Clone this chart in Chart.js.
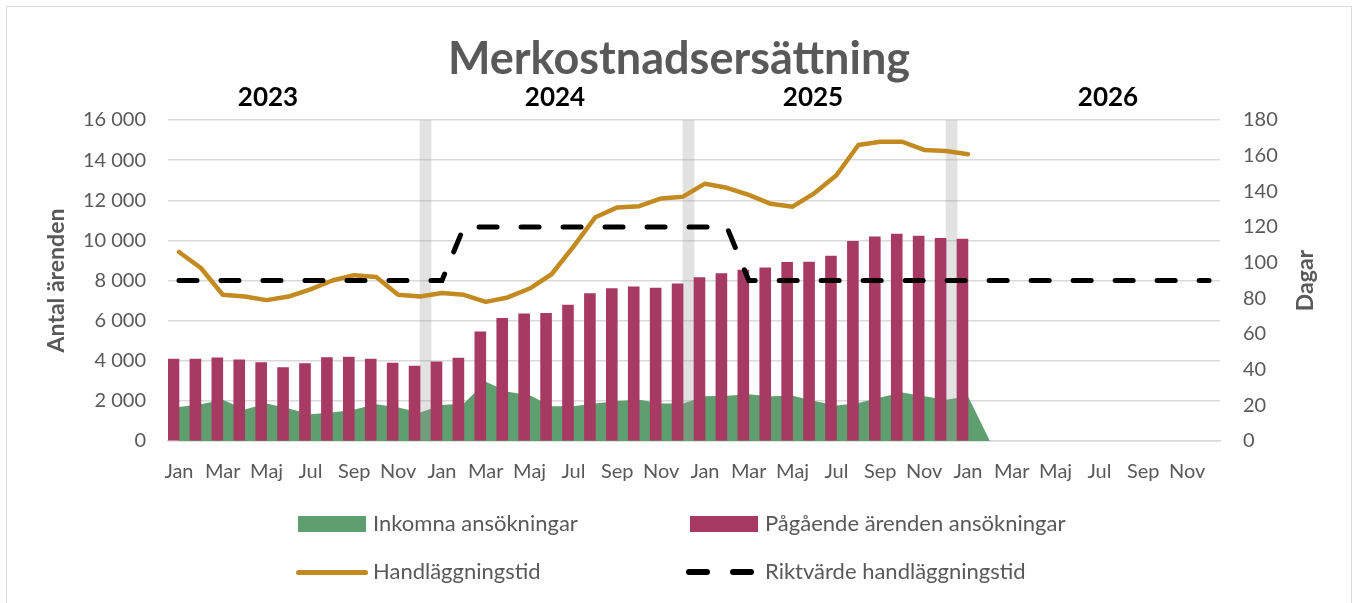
<!DOCTYPE html>
<html>
<head>
<meta charset="utf-8">
<script src="https://cdn.jsdelivr.net/npm/chart.js@4"></script>
<style>
  body { margin: 0; background: #fff; font-family: Lato, "Open Sans", sans-serif; }
  #wrap { position: relative; width: 1356px; height: 603px; }
  #frame { position: absolute; left: 6px; top: 6px; width: 1344px; height: 600px; border: 1px solid #d9d9d9; border-bottom: none; }
  canvas { position: absolute; left: 0; top: 0; }
  .lg { position: absolute; font-size: 22px; color: #595959; line-height: 26px; }
  .sw { position: absolute; }
</style>
</head>
<body>
<div id="wrap">
  <div id="frame"></div>
  <canvas id="chart" width="1356" height="603"></canvas>
  <div class="sw" style="left:298px;top:516px;width:68px;height:16px;background:#5f9e6e"></div>
  <div class="lg" style="left:373px;top:510px">Inkomna ansökningar</div>
  <div class="sw" style="left:690px;top:516px;width:68px;height:16px;background:#a63a62"></div>
  <div class="lg" style="left:765px;top:510px">Pågående ärenden ansökningar</div>
  <div class="sw" style="left:296px;top:570px;width:72px;height:5px;border-radius:3px;background:#c38a22"></div>
  <div class="lg" style="left:373px;top:558px">Handläggningstid</div>
  <div class="sw" style="left:686px;top:569px;width:24px;height:6px;border-radius:3px;background:#000"></div>
  <div class="sw" style="left:730px;top:569px;width:24px;height:6px;border-radius:3px;background:#000"></div>
  <div class="lg" style="left:765px;top:558px">Riktvärde handläggningstid</div>
</div>
<script>
const monthNames = ["Jan", "Feb", "Mar", "Apr", "Maj", "Jun", "Jul", "Aug", "Sep", "Okt", "Nov", "Dec"];
const years = ["2023", "2024", "2025", "2026"];

// inkomna ansökningar per månad (area)
const inkomna = [1700, 1830, 2060, 1570, 1870, 1620, 1330, 1420, 1570, 1830, 1670, 1420,
    1800, 1870, 2950, 2450, 2280, 1730, 1730, 1870, 2000, 2060, 1870, 1870,
    2230, 2250, 2330, 2230, 2250, 2000, 1770, 1900, 2170, 2420, 2230, 2060,
    2230, 0];

// pågående ärenden (staplar)
const pagaende = [4080, 4080, 4140, 4040, 3910, 3660, 3860, 4160, 4180, 4080, 3880, 3730,
    3940, 4130, 5440, 6110, 6340, 6360, 6770, 7350, 7600, 7690, 7620, 7840,
    8150, 8350, 8520, 8630, 8900, 8920, 9220, 9950, 10180, 10310, 10210, 10100,
    10065];

// handläggningstid i dagar
const handlaggning = [106, 97, 82, 81, 79, 81, 85, 90, 93, 92, 82, 81,
    83, 82, 78, 80.5, 85.5, 93.5, 109, 125.5, 131, 131.7, 136, 137,
    144.3, 142, 138, 133, 131.4, 139, 149, 166, 167.8, 167.8, 163.2, 162.6,
    160.8];

// riktvärde
const riktvarde = [90, 90, 90, 90, 90, 90, 90, 90, 90, 90, 90, 90,
    90, 120, 120, 120, 120, 120, 120, 120, 120, 120, 120, 120,
    120, 120, 90, 90, 90, 90, 90, 90, 90, 90, 90, 90,
    90, 90, 90, 90, 90, 90, 90, 90, 90, 90, 90, 90];

// grå markering vid årsskiften (december)
const arsskifte = [null, null, null, null, null, null, null, null, null, null, null, 16000,
    null, null, null, null, null, null, null, null, null, null, null, 16000,
    null, null, null, null, null, null, null, null, null, null, null, 16000,
    null, null, null, null, null, null, null, null, null, null, null, null];

const labels = [];
years.forEach(function () {
    monthNames.forEach(function (m) { labels.push(m); });
});

const textColor = "#595959";
const fontFam = "Lato, 'Open Sans', sans-serif";

// rubrik, årtal och högeraxelns titel
const textPlugin = {
    id: "texts",
    afterDraw(chart) {
        const ctx = chart.ctx;
        const area = chart.chartArea;
        ctx.save();
        ctx.textAlign = "center";
        ctx.textBaseline = "middle";
        ctx.fillStyle = textColor;
        ctx.font = "bold 45px " + fontFam;
        ctx.fillText("Merkostnadsersättning", 679, 59);

        ctx.fillStyle = "#000";
        ctx.font = "bold 26px " + fontFam;
        const yearX = [268, 555, 813, 1108];
        years.forEach(function (y, i) {
            ctx.fillText(y, yearX[i], 98);
        });

        ctx.fillStyle = textColor;
        ctx.font = "bold 23px " + fontFam;
        ctx.translate(1306, (area.top + area.bottom) / 2);
        ctx.rotate(-Math.PI / 2);
        ctx.fillText("Dagar", 0, 0);
        ctx.restore();
    }
};

const data = {
    labels: labels,
    datasets: [
        {
            type: "line",
            label: "Inkomna ansökningar",
            data: inkomna,
            yAxisID: "y",
            fill: "origin",
            backgroundColor: "#5f9e6e",
            borderWidth: 0,
            pointRadius: 0,
            tension: 0,
            order: 5,
        },
        {
            type: "bar",
            label: "Årsskifte",
            data: arsskifte,
            yAxisID: "y",
            backgroundColor: "rgba(160,160,160,0.3)",
            categoryPercentage: 1,
            barPercentage: 1,
            order: 4,
        },
        {
            type: "bar",
            label: "Pågående ärenden ansökningar",
            data: pagaende,
            yAxisID: "y",
            backgroundColor: "#a63a62",
            categoryPercentage: 1,
            barPercentage: 1,
            order: 3,
        },
        {
            type: "line",
            label: "Handläggningstid",
            data: handlaggning,
            yAxisID: "y2",
            borderColor: "#c38a22",
            borderWidth: 4.5,
            pointRadius: 0,
            tension: 0,
            borderCapStyle: "round",
            borderJoinStyle: "round",
            fill: false,
            order: 2,
        },
        {
            type: "line",
            label: "Riktvärde handläggningstid",
            data: riktvarde,
            yAxisID: "y2",
            borderColor: "#000",
            borderWidth: 5,
            borderDash: [18, 24],
            borderCapStyle: "round",
            pointRadius: 0,
            tension: 0,
            fill: false,
            order: 1,
        },
    ],
};

const config = {
    data: data,
    plugins: [textPlugin],
    options: {
        responsive: false,
        animation: false,
        layout: {
            padding: { left: 0, right: 0, top: 120, bottom: 112 },
        },
        scales: {
            x: {
                grid: { display: false, drawTicks: false },
                border: { color: "#d9d9d9", width: 1.5 },
                ticks: {
                    autoSkip: false,
                    maxRotation: 0,
                    padding: 19,
                    color: textColor,
                    font: { family: fontFam, size: 20 },
                    callback: function (value, index) {
                        return index % 2 === 0 ? this.getLabelForValue(value) : "";
                    },
                },
                afterFit: function (scale) { scale.height = 50; },
            },
            y: {
                position: "left",
                min: 0,
                max: 16000,
                ticks: {
                    stepSize: 2000,
                    padding: 22,
                    color: textColor,
                    font: { family: fontFam, size: 20 },
                    callback: function (v) {
                        return v.toString().replace(/\B(?=(\d{3})+(?!\d))/g, " ");
                    },
                },
                grid: { color: "#d9d9d9", lineWidth: 1.5, drawTicks: false },
                border: { display: false },
                title: {
                    display: true,
                    text: "Antal ärenden",
                    color: textColor,
                    font: { family: fontFam, size: 23, weight: "bold" },
                    padding: { top: 43, bottom: 0 },
                },
                afterFit: function (scale) { scale.width = 168; },
            },
            y2: {
                position: "right",
                min: 0,
                max: 180,
                ticks: {
                    stepSize: 20,
                    padding: 23,
                    color: textColor,
                    font: { family: fontFam, size: 20 },
                },
                grid: { display: false, drawTicks: false },
                border: { display: false },
                afterFit: function (scale) { scale.width = 136; },
            },
        },
        plugins: {
            legend: { display: false },
            title: { display: false },
            tooltip: { enabled: false },
        },
    },
};

const chart = new Chart(document.getElementById("chart"), config);
</script>
</body>
</html>
